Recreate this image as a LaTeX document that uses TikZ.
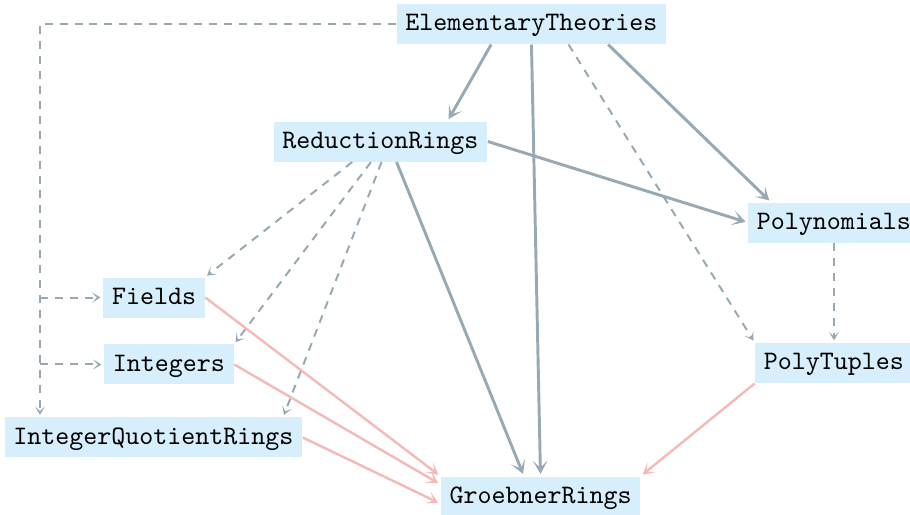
\documentclass[tikz,border=0pt]{standalone}
\usepackage{xcolor}
\usetikzlibrary{positioning,arrows.meta}
\definecolor{boxfill}{RGB}{215,238,252}
\definecolor{edgegray}{RGB}{152,169,179}
\definecolor{edgepink}{RGB}{247,184,184}

\begin{document}
\begin{tikzpicture}[
          solidedge/.style={draw=edgegray, line width=1.1pt, -{Stealth[length=5pt, width=5.6pt, inset=2.8pt]}, shorten >=0.8pt},
          dashedge/.style={draw=edgegray, line width=0.75pt, dash pattern=on 3pt off 2.6pt, -{Stealth[length=3.2pt, width=3.8pt, inset=1.8pt]}, shorten >=0.8pt},
          pinkedge/.style={draw=edgepink, line width=0.9pt, -{Stealth[length=4.4pt, width=4.8pt, inset=2.5pt]}, shorten >=0.8pt}]
          % A box style
          \tikzstyle{theorybox} = [fill=boxfill, rectangle, text centered, font=\ttfamily, inner xsep=3.3pt, inner ysep=3pt, text height=7pt, text depth=2pt]

          \useasboundingbox (0,0) rectangle (11.994,-6.775);

          % Place the theories as in the layout
          \node (Elementary) [theorybox] at (7.005,-0.316) {ElementaryTheories};
          \node (Reduction)  [theorybox] at (5.015,-1.865) {ReductionRings};
          \node (Poly)       [theorybox] at (10.992,-2.933) {Polynomials};
          \node (Fields)     [theorybox] at (2.030,-3.921) {Fields};
          \node (Integers)   [theorybox] at (2.227,-4.804) {Integers};
          \node (Tuples)     [theorybox] at (10.992,-4.784) {PolyTuples};
          \node (Quotient)   [theorybox] at (2.023,-5.766) {IntegerQuotientRings};
          \node (Groebner)   [theorybox] at (7.124,-6.544) {GroebnerRings};
          \coordinate (bend) at (0.527,-0.316);

          % Solid imports
          \draw[solidedge] (Elementary.207) -- (Reduction.17);
          \draw[solidedge] (Elementary.270) -- (Groebner.north);
          \draw[solidedge] (Elementary.345) -- (Poly.162);
          \draw[solidedge] (Reduction.308) -- (Groebner.129);
          \draw[solidedge] (Reduction.east) -- (Poly.west);

          % Dashed imports
          \draw[dashedge] (Elementary.331) -- (Tuples.north west);
          \draw[dashedge] (Elementary.west) -- (bend) -- (bend |- Quotient.north);
          \draw[dashedge] (bend |- Fields) -- (Fields.west);
          \draw[dashedge] (bend |- Integers) -- (Integers.west);
          \draw[dashedge] (Reduction.216) -- (Fields.north east);
          \draw[dashedge] (Reduction.245) -- (Integers.north east);
          \draw[dashedge] (Reduction.273) -- (Quotient.9);
          \draw[dashedge] (Poly.south) -- (Tuples.north);

          % Imports into GroebnerRings
          \draw[pinkedge] (Fields.east) -- (Groebner.north west);
          \draw[pinkedge] (Integers.east) -- (Groebner.173);
          \draw[pinkedge] (Quotient.east) -- (Groebner.184);
          \draw[pinkedge] (Tuples.south west) -- (Groebner.north east);

          \end{tikzpicture}
\end{document}
